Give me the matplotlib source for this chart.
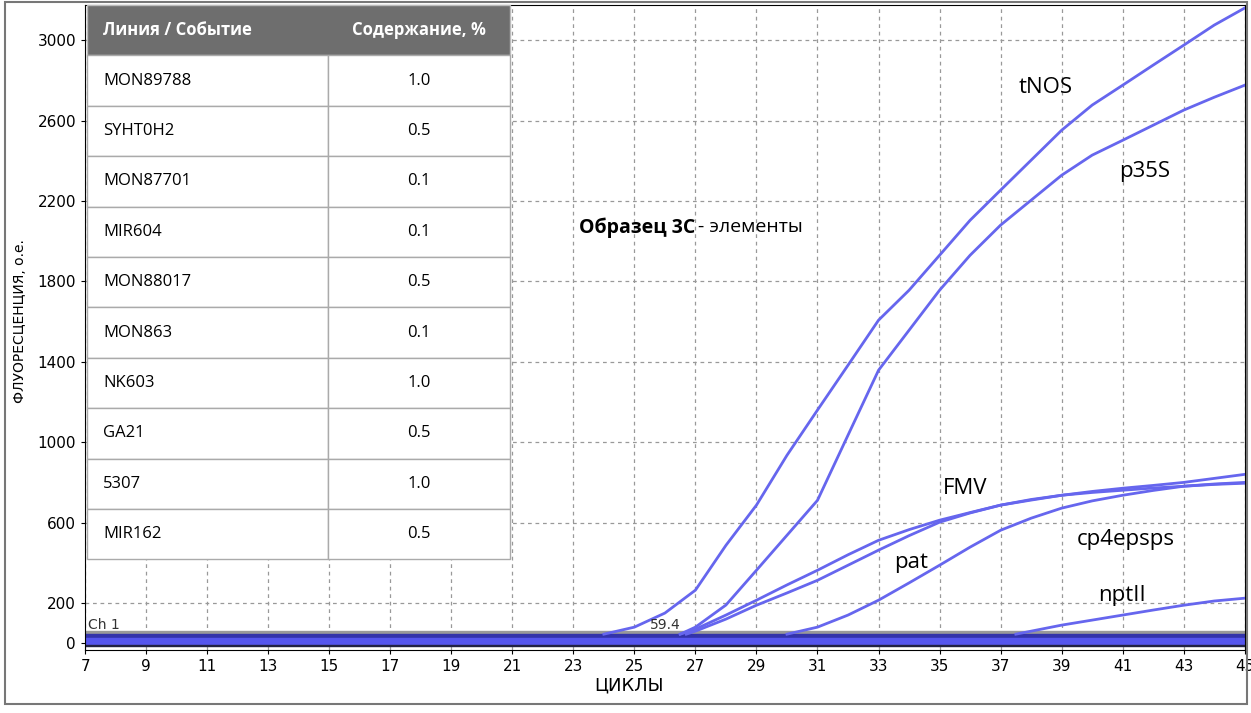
import matplotlib.pyplot as plt
from matplotlib.patches import Rectangle

tnos_x = [24, 25, 26, 27, 28, 29, 30, 31, 32, 33, 34, 35, 36, 37, 38, 39, 40, 41, 42, 43, 44, 45]
tnos = [45, 80, 150, 264, 487, 687, 935, 1160, 1383, 1607, 1756, 1930, 2104, 2254, 2403, 2552,
        2677, 2776, 2876, 2975, 3075, 3160]
p35s_x = [26.5, 27, 28, 29, 30, 31, 32, 33, 34, 35, 36, 37, 38, 39, 40, 41, 42, 43, 44, 45]
p35s = [45, 80, 190, 363, 537, 711, 1035, 1358, 1557, 1756, 1930, 2080, 2204, 2328, 2428, 2502,
        2577, 2652, 2716, 2776]
fmv_x = [26.5, 27, 28, 29, 30, 31, 32, 33, 34, 35, 36, 37, 38, 39, 40, 41, 42, 43, 44, 45]
fmv = [45, 70, 140, 214, 290, 363, 440, 512, 565, 612, 650, 687, 712, 736, 755, 771, 785, 800, 820, 840]
pat_x = [26.7, 27, 28, 29, 30, 31, 32, 33, 34, 35, 36, 37, 38, 39, 40, 41, 42, 43, 44, 45]
pat = [45, 60, 120, 189, 250, 313, 388, 463, 535, 602, 648, 687, 715, 736, 750, 761, 772, 781, 790, 796]
cp4_x = [30, 31, 32, 33, 34, 35, 36, 37, 38, 39, 40, 41, 42, 43, 44, 45]
cp4 = [45, 80, 140, 214, 300, 388, 478, 562, 622, 672, 708, 736, 760, 781, 792, 800]
npt_x = [37.5, 38, 39, 40, 41, 42, 43, 44, 45]
npt = [45, 60, 90, 115, 140, 165, 189, 210, 224]

events = ['MON89788', 'SYHT0H2', 'MON87701', 'MIR604', 'MON88017',
          'MON863', 'NK603', 'GA21', '5307', 'MIR162']
content = ['1.0', '0.5', '0.1', '0.1', '0.5', '0.1', '1.0', '0.5', '1.0', '0.5']

fig = plt.figure(figsize=(12.51, 7.13), dpi=100)
plt.rcParams['font.family'] = 'Liberation Sans Narrow'
ax = fig.add_axes([0.068, 0.088, 0.927, 0.905])
ax.set_xlim(7, 45)
ax.set_ylim(-35, 3175)
ax.set_xticks(range(7, 46, 2))
ax.set_yticks([0, 200, 600, 1000, 1400, 1800, 2200, 2600, 3000])
ax.tick_params(labelsize=11, length=3)
ax.grid(True, ls=(0, (3, 3)), color='#999999', lw=0.9)
ax.set_axisbelow(True)

# baseline bands
ax.axhspan(45, 62, color='#999999', zorder=2)
ax.axhspan(28, 45, color='#3333aa', zorder=2)
ax.axhspan(-8, 28, color='#5555ee', zorder=2)
ax.axhspan(-14, -8, color='#222244', zorder=2)

lc = '#6666ee'
for x, y in [(tnos_x, tnos), (p35s_x, p35s), (fmv_x, fmv), (pat_x, pat), (cp4_x, cp4), (npt_x, npt)]:
    ax.plot(x, y, color=lc, lw=2, zorder=3)

lab = dict(fontsize=16, fontfamily='Open Sans', zorder=4)
ax.text(37.6, 2735, 'tNOS', **lab)
ax.text(40.9, 2320, 'p35S', **lab)
ax.text(35.1, 740, 'FMV', **lab)
ax.text(33.5, 375, 'pat', **lab)
ax.text(39.5, 490, 'cp4epsps', **lab)
ax.text(40.2, 210, 'nptII', **lab)
ax.text(7.1, 70, 'Ch 1', fontsize=10, color='#333333', zorder=4)
ax.text(25.5, 70, '59.4', fontsize=10, color='#333333', zorder=4)

fig.text(0.463, 0.681, 'Образец 3С', fontsize=14, fontweight='bold', fontfamily='Open Sans', va='center')
fig.text(0.558, 0.681, '- элементы', fontsize=14, fontfamily='Open Sans', va='center')
fig.text(0.016, 0.55, 'ФЛУОРЕСЦЕНЦИЯ, о.е.', rotation=90, fontsize=10, va='center', ha='center')
fig.text(0.503, 0.032, 'ЦИКЛЫ', fontsize=13, ha='center')

# table
x0, x1, xm = 87 / 1251, 510 / 1251, 328 / 1251
top, rh = 1 - 5 / 713, 50.4 / 713
fig.patches.append(Rectangle((x0, top - rh), x1 - x0, rh, transform=fig.transFigure,
                             facecolor='#6e6e6e', edgecolor='#bbbbbb', zorder=5))
fig.text(x0 + 0.013, top - rh / 2, 'Линия / Событие', color='white', fontweight='bold',
         fontsize=12, fontfamily='Open Sans', va='center', zorder=6)
fig.text((xm + x1) / 2, top - rh / 2, 'Содержание, %', color='white', fontweight='bold',
         fontsize=12, fontfamily='Open Sans', va='center', ha='center', zorder=6)
for i, (e, c) in enumerate(zip(events, content)):
    yb = top - rh * (i + 2)
    for a, b in [(x0, xm), (xm, x1)]:
        fig.patches.append(Rectangle((a, yb), b - a, rh, transform=fig.transFigure,
                                     facecolor='white', edgecolor='#aaaaaa', zorder=5))
    fig.text(x0 + 0.013, yb + rh / 2, e, fontsize=12, fontfamily='Open Sans', va='center', zorder=6)
    fig.text((xm + x1) / 2, yb + rh / 2, c, fontsize=12, fontfamily='Open Sans',
             va='center', ha='center', zorder=6)

fig.patches.append(Rectangle((0.004, 0.012), 0.993, 0.985, transform=fig.transFigure,
                             fill=False, edgecolor='#777777', lw=1.5))
fig.savefig('out.png')
